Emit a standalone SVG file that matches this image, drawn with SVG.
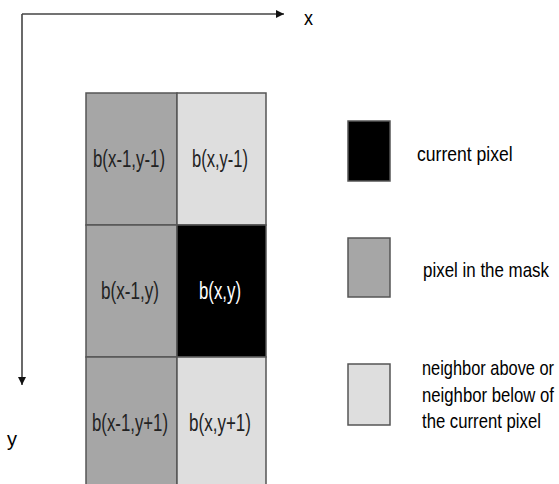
<svg xmlns="http://www.w3.org/2000/svg" width="559" height="484" viewBox="0 0 559 484">
<style>
.cell{stroke:#555;stroke-width:1.5}
.dk{fill:#a6a6a6}.lt{fill:#dedede}.bk{fill:#000}
.t{font-family:"Liberation Sans",Arial,sans-serif;font-size:23px;fill:#222;text-anchor:middle}
.lg{font-family:"Liberation Sans",Arial,sans-serif;font-size:20px;fill:#000}
.ax{stroke:#444;stroke-width:1.6;fill:none}
</style>
<defs>
<marker id="ah" markerWidth="10" markerHeight="10" refX="8" refY="4" orient="auto" markerUnits="userSpaceOnUse">
<path d="M0,0 L8,4 L0,8 Z" fill="#111"/>
</marker>
</defs>
<rect width="559" height="484" fill="#fff"/>
<g id="connectors">
<line class="ax" x1="22" y1="14" x2="284" y2="14" marker-end="url(#ah)"/>
<line class="ax" x1="22" y1="14" x2="22" y2="385" marker-end="url(#ah)"/>
</g>
<g id="axis-labels">
<text class="lg" x="304" y="25" font-size="22" textLength="9" lengthAdjust="spacingAndGlyphs" fill="#333">x</text>
<text class="lg" x="7" y="446" font-size="22" textLength="10" lengthAdjust="spacingAndGlyphs" fill="#333">y</text>
</g>
<g id="b-x-1-y-1"><rect class="cell dk" x="86" y="93" width="91" height="132"/><text class="t" x="129" y="167" textLength="72" lengthAdjust="spacingAndGlyphs">b(x-1,y-1)</text></g>
<g id="b-x-y-1"><rect class="cell lt" x="177" y="93" width="89" height="132"/><text class="t" x="220" y="167" textLength="56" lengthAdjust="spacingAndGlyphs">b(x,y-1)</text></g>
<g id="b-x-1-y"><rect class="cell dk" x="86" y="225" width="91" height="132"/><text class="t" x="130" y="299" textLength="58" lengthAdjust="spacingAndGlyphs">b(x-1,y)</text></g>
<g id="b-x-y"><rect class="cell bk" x="177" y="225" width="89" height="132"/><text class="t" x="220" y="299" textLength="42" lengthAdjust="spacingAndGlyphs" style="fill:#fff">b(x,y)</text></g>
<g id="b-x-1-y1"><rect class="cell dk" x="86" y="357" width="91" height="130"/><text class="t" x="130" y="431" textLength="76" lengthAdjust="spacingAndGlyphs">b(x-1,y+1)</text></g>
<g id="b-x-y1"><rect class="cell lt" x="177" y="357" width="89" height="130"/><text class="t" x="220" y="431" textLength="62" lengthAdjust="spacingAndGlyphs">b(x,y+1)</text></g>
<g id="legend-current"><rect class="cell bk" x="348" y="121" width="42" height="60"/><text class="lg" transform="translate(417,161) scale(0.879,1)" font-size="19">current pixel</text></g>
<g id="legend-mask"><rect class="cell dk" x="348" y="238" width="42" height="59"/><text class="lg" transform="translate(423,277) scale(0.847,1)" font-size="19.5">pixel in the mask</text></g>
<g id="legend-neighbor"><rect class="cell lt" x="348" y="364" width="42" height="61"/>
<text class="lg" transform="translate(422,375) scale(0.82,1)">neighbor above or</text>
<text class="lg" transform="translate(422,402) scale(0.836,1)">neighbor below of</text>
<text class="lg" transform="translate(422,428) scale(0.836,1)">the current pixel</text></g>
</svg>
